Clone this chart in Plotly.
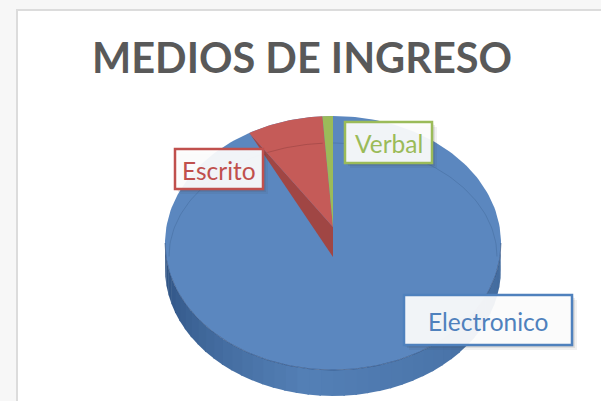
import numpy as np
import plotly.graph_objects as go

TITLE = "MEDIOS DE INGRESO"
categories = ["Electronico", "Escrito", "Verbal"]
values = [91.7, 7.3, 1.0]

# slice colours
face = {"Electronico": "#5b87bf", "Escrito": "#c55b58", "Verbal": "#9bbb59"}
label_col = {"Electronico": "#4f81bd", "Escrito": "#c0504d", "Verbal": "#9bbb59"}

# pixel-space projection of the tilted pie
CX, CY, RX, RY, DEPTH = 333, 243, 168, 127, 26
APEX_TOP, APEX_BOT = 227, 257


def arc(t0, t1, n=80, cy=CY, rx=RX, ry=RY):
    t = np.linspace(t0, t1, n)
    return CX + rx * np.sin(t), cy - ry * np.cos(t)


total = sum(values)
# slices run clockwise from 12 o'clock: Electronico, Escrito, Verbal
ang = np.cumsum([0] + values) / total * 2 * np.pi
bounds = {c: (ang[i], ang[i + 1]) for i, c in enumerate(categories)}

fig = go.Figure()


def poly(x, y, color, name, line=None):
    fig.add_trace(go.Scatter(x=list(x), y=list(y), mode="lines", fill="toself", fillcolor=color,
                             line=dict(width=0.6 if line else 0, color=line or color),
                             name=name, hoverinfo="name", showlegend=False))


# extruded wall: bands, darker towards the far left
bands = 44
edges = np.linspace(np.pi / 2, 3 * np.pi / 2, bands + 1)
for i in range(bands):
    a, b = edges[i], edges[i + 1] + 0.01
    f = (i + 0.5) / bands  # 0 = right, 1 = left
    shade = 1 - (f - 0.55) / 0.45 if f > 0.55 else 1 - (0.55 - f) / 1.2
    c0, c1 = np.array([44, 80, 128]), np.array([84, 128, 182])
    col = c0 + (c1 - c0) * max(0, shade)
    x1, y1 = arc(a, b, 8)
    poly(np.r_[x1, x1[::-1]], np.r_[y1, (y1 + DEPTH)[::-1]],
         "rgb(%d,%d,%d)" % tuple(col), "Electronico")

# top face of the largest slice = whole ellipse
x, y = arc(0, 2 * np.pi, 240)
poly(x, y, face["Electronico"], "Electronico")

# bevel line: faint on the far side, stronger on the near side
bx, by = arc(-np.pi / 2, np.pi / 2, 120, cy=256.5, rx=164, ry=113.5)
fig.add_trace(go.Scatter(x=bx, y=by, mode="lines", line=dict(color="rgba(50,85,130,0.28)", width=1),
                         hoverinfo="skip", showlegend=False))
bx, by = arc(np.pi / 2, 3 * np.pi / 2, 120, cy=CY, rx=RX, ry=RY)
fig.add_trace(go.Scatter(x=bx, y=by, mode="lines", line=dict(color="rgba(40,70,115,0.55)", width=1),
                         hoverinfo="skip", showlegend=False))

# Escrito: wall and face
ax, ay = arc(*bounds["Escrito"], 30)
poly([ax[0], CX, CX, ax[0]], [ay[0], APEX_BOT, APEX_TOP, ay[0]], "#a04644", "Escrito")
poly(np.r_[CX, ax, CX], np.r_[APEX_TOP, ay, APEX_TOP], face["Escrito"], "Escrito")
# Verbal
vx, vy = arc(*bounds["Verbal"], 10)
poly(np.r_[CX, vx, CX], np.r_[APEX_TOP, vy, APEX_TOP], face["Verbal"], "Verbal")

# faint bevel over the red slice
rx_, ry_ = arc(bounds["Escrito"][0] + 0.11, bounds["Escrito"][1], 20, cy=256.5, rx=164, ry=113.5)
fig.add_trace(go.Scatter(x=rx_, y=ry_, mode="lines", line=dict(color="rgba(140,60,60,0.45)", width=1),
                         hoverinfo="skip", showlegend=False))

# label boxes
boxes = {"Escrito": (175, 149, 263, 189), "Verbal": (345, 122, 432, 163), "Electronico": (404, 295, 572, 345)}
shapes = [
    dict(type="rect", layer="below", x0=17, x1=640, y0=10, y1=440, fillcolor="white",
         line=dict(color="#dcdcdc", width=2)),
]
annotations = [
    dict(x=301.5, y=56.5, text="<b>%s</b>" % TITLE, showarrow=False, xanchor="center", yanchor="middle",
         font=dict(family="Lato", size=41.5, color="#595959")),
]
for c in categories:
    x0, y0, x1, y1 = boxes[c]
    for off, alpha in ((5, 0.07), (3, 0.10), (1.5, 0.12)):
        shapes.append(dict(type="rect", layer="above", x0=x0 + off, x1=x1 + off, y0=y0 + off, y1=y1 + off,
                           fillcolor="rgba(60,60,60,%.2f)" % alpha, line=dict(width=0)))
    shapes.append(dict(type="rect", layer="above", x0=x0, x1=x1, y0=y0, y1=y1,
                       fillcolor="rgba(255,255,255,0.92)", line=dict(color=label_col[c], width=2.5)))
    annotations.append(dict(x=(x0 + x1) / 2, y=(y0 + y1) / 2 + 1, text=c, showarrow=False,
                            xanchor="center", yanchor="middle",
                            font=dict(family="Lato", size=24.5, color=label_col[c])))

fig.update_layout(
    width=601, height=401, margin=dict(l=0, r=0, t=0, b=0),
    paper_bgcolor="#f7f7f7", plot_bgcolor="rgba(0,0,0,0)",
    xaxis=dict(range=[0, 601], visible=False, fixedrange=True),
    yaxis=dict(range=[401, 0], visible=False, fixedrange=True),
    shapes=shapes, annotations=annotations, showlegend=False,
)
fig.write_html("out.html", config={"displayModeBar": False},
               post_script="document.body.style.margin='0';document.documentElement.style.overflow='hidden';")
